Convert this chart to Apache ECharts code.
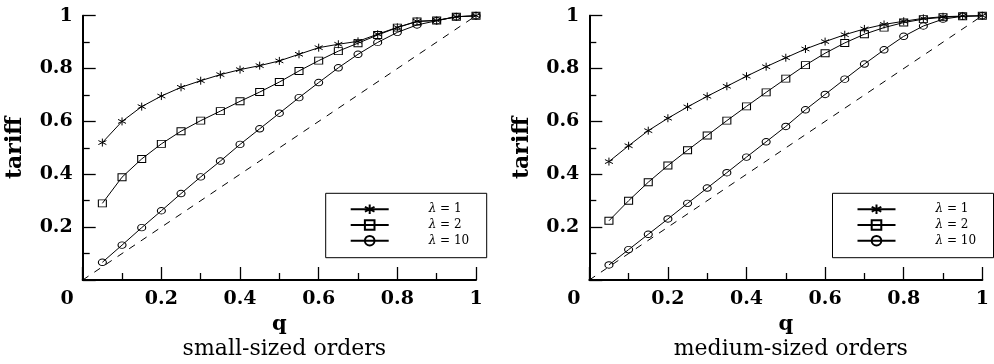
<!DOCTYPE html>
<html>
<head>
<meta charset="utf-8">
<script src="https://cdn.jsdelivr.net/npm/echarts@6/dist/echarts.min.js"></script>
<style>
html,body{margin:0;padding:0;background:#fff;}
#chart{width:994px;height:364px;}
</style>
</head>
<body>
<div id="chart"></div>
<script>
// ---- data ----
var qValues = [0.05,0.1,0.15,0.2,0.25,0.3,0.35,0.4,0.45,0.5,0.55,0.6,0.65,0.7,0.75,0.8,0.85,0.9,0.95,1.0];
var seriesNames = ['λ = 1', 'λ = 2', 'λ = 10'];
var panelTitles = ['small-sized orders', 'medium-sized orders'];
var tickLabels = [0, 0.2, 0.4, 0.6, 0.8, 1];

// small-sized orders
var smallL1  = [0.52,0.60,0.656,0.696,0.729,0.754,0.777,0.796,0.811,0.829,0.854,0.879,0.892,0.903,0.93,0.956,0.979,0.982,0.996,1.0];
var smallL2  = [0.29,0.389,0.458,0.515,0.563,0.603,0.639,0.676,0.711,0.749,0.791,0.83,0.866,0.896,0.927,0.955,0.978,0.982,0.996,1.0];
var smallL10 = [0.067,0.132,0.198,0.262,0.327,0.39,0.45,0.513,0.572,0.631,0.69,0.747,0.803,0.854,0.899,0.937,0.965,0.981,0.996,1.0];

// medium-sized orders
var medL1  = [0.448,0.508,0.565,0.612,0.655,0.695,0.733,0.771,0.807,0.841,0.874,0.902,0.928,0.95,0.967,0.979,0.99,0.996,0.999,1.0];
var medL2  = [0.224,0.30,0.37,0.433,0.491,0.547,0.603,0.657,0.71,0.762,0.813,0.858,0.897,0.93,0.955,0.974,0.987,0.994,0.998,1.0];
var medL10 = [0.057,0.115,0.173,0.231,0.29,0.348,0.406,0.465,0.523,0.581,0.644,0.702,0.76,0.817,0.871,0.922,0.961,0.987,0.998,1.0];

var diagonal = [[0,0],[1,1]];

// ---- build ----
function pairs(ys){ return qValues.map(function(q,i){ return [q, ys[i]]; }); }

var FONT = 'DejaVu Serif';
var starPath = 'path://M5 0L5 10M0.67 2.5L9.33 7.5M0.67 7.5L9.33 2.5';
var symbols = [starPath, 'rect', 'circle'];
var symbolSizes = [[8,8],[8,7],[8,6.5]];

function axisCommon(isX){
  return {
    type: 'value', min: 0, max: 1, interval: 0.2,
    axisLine: {show: true, onZero: false, lineStyle: {color: '#000', width: 2}},
    axisTick: {show: true, inside: true, length: 13, lineStyle: {color: '#000', width: 1.3}},
    minorTick: {show: true, splitNumber: 2, length: 7, lineStyle: {color: '#000', width: 1.3}},
    splitLine: {show: false},
    axisLabel: {
      color: '#000', fontFamily: FONT, fontWeight: 'bold', fontSize: 19, margin: 10,
      formatter: isX ? function(v){ return v === 0 ? '{z|0}' : String(v); }
                     : function(v){ return v === 0 ? '' : String(v); },
      rich: {z: {fontFamily: FONT, fontWeight: 'bold', fontSize: 19, color: '#000', padding: [0, 31, 0, 0]}}
    },
    nameTextStyle: {color: '#000', fontFamily: FONT, fontWeight: 'bold', fontSize: isX ? 21 : 22}
  };
}

var grids = [
  {left: 82.7, top: 15.7, width: 393.3, height: 264.3},
  {left: 589.3, top: 15.7, width: 393, height: 264.3}
];
var xAxes = [], yAxes = [], series = [], titles = [];
var panelData = [[smallL1, smallL2, smallL10], [medL1, medL2, medL10]];
var legendLefts = [325.7, 832.5];

for (var p = 0; p < 2; p++) {
  var xa = axisCommon(true);
  xa.gridIndex = p; xa.name = 'q'; xa.nameLocation = 'middle'; xa.nameGap = 28;
  xAxes.push(xa);
  var ya = axisCommon(false);
  ya.gridIndex = p; ya.name = 'tariff'; ya.nameLocation = 'middle'; ya.nameGap = 56;
  yAxes.push(ya);
  for (var s = 0; s < 3; s++) {
    series.push({
      name: seriesNames[s], type: 'line', xAxisIndex: p, yAxisIndex: p,
      data: pairs(panelData[p][s]),
      symbol: symbols[s], symbolSize: symbolSizes[s], showSymbol: true, showAllSymbol: true,
      lineStyle: {color: '#000', width: 1},
      itemStyle: {color: s === 0 ? '#000' : 'rgba(0,0,0,0)', borderColor: '#000', borderWidth: 1},
      emphasis: {disabled: true}, animation: false, z: 3
    });
  }
  series.push({
    name: 'diag' + p, type: 'line', xAxisIndex: p, yAxisIndex: p, data: diagonal,
    symbol: 'none', lineStyle: {color: '#000', width: 1, type: [7, 7]},
    emphasis: {disabled: true}, animation: false, z: 2
  });
  titles.push({
    text: panelTitles[p], left: grids[p].left + grids[p].width / 2, top: 333, textAlign: 'center',
    textStyle: {fontFamily: FONT, fontWeight: 'normal', fontSize: 22, color: '#000'}
  });
}

var option = {
  backgroundColor: '#fff',
  animation: false,
  title: titles,
  grid: grids,
  xAxis: xAxes,
  yAxis: yAxes,
  legend: [0, 1].map(function(p){
    return {
      data: seriesNames, orient: 'vertical', left: legendLefts[p], top: 193.3,
      padding: [10, 16, 11, 24], itemWidth: 38, itemHeight: 12, itemGap: 3.7,
      borderColor: '#000', borderWidth: 1, selectedMode: false,
      formatter: function(n){ var parts = n.split(' = '); return '{i|λ} = ' + parts[1]; },
      textStyle: {fontFamily: FONT, fontSize: 12, color: '#000', padding: [0, 0, 0, 35], width: 42, lineHeight: 12,
        rich: {i: {fontFamily: FONT, fontStyle: 'italic', fontSize: 12, color: '#000'}}}
    };
  }),
  series: series
};

var chart = echarts.init(document.getElementById('chart'), null, {renderer: 'canvas'});
chart.setOption(option);
</script>
</body>
</html>
